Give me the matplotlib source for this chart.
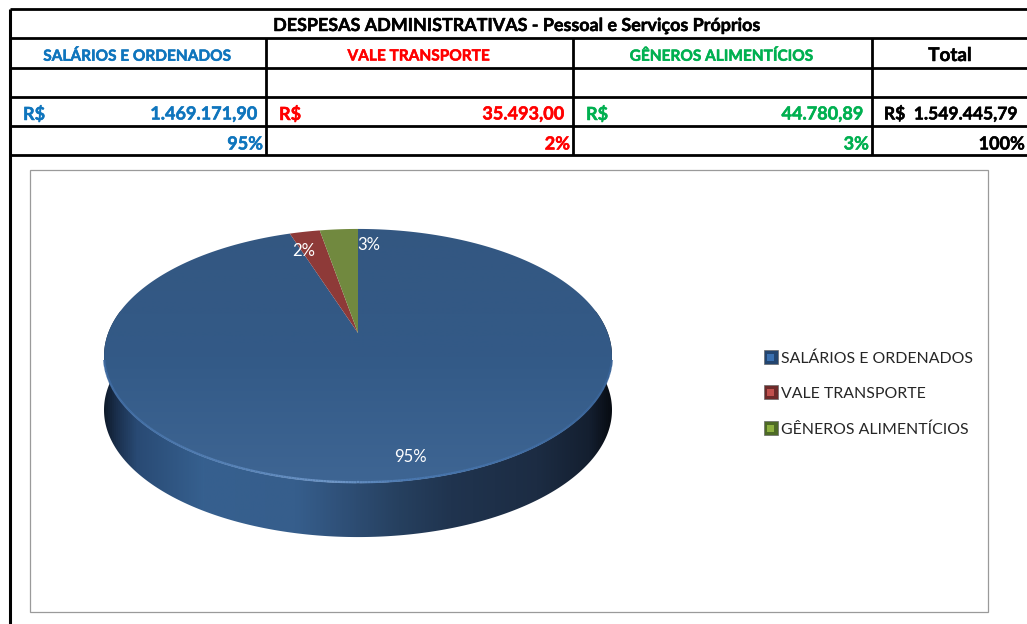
import numpy as np
import matplotlib
matplotlib.use("Agg")
import matplotlib.pyplot as plt
import matplotlib.patheffects as pe
from matplotlib.patches import Polygon, Rectangle
from matplotlib.collections import LineCollection
from matplotlib.colors import LinearSegmentedColormap

plt.rcParams['font.family'] = ['Lato', 'DejaVu Sans']

categories = ["SALÁRIOS E ORDENADOS", "VALE TRANSPORTE", "GÊNEROS ALIMENTÍCIOS"]
values = [1469171.90, 35493.00, 44780.89]
value_labels = ["1.469.171,90", "35.493,00", "44.780,89"]
pct_labels = ["95%", "2%", "3%"]
total_label = "R$  1.549.445,79"
total_pct = "100%"
title = "DESPESAS ADMINISTRATIVAS - Pessoal e Serviços Próprios"
text_colors = ["#0f75bd", "#ff0000", "#00b050"]
top_colors = ["#3a6190", "#8e3a38", "#71893f"]

fig = plt.figure(figsize=(10.27, 6.24), dpi=100)
ax = fig.add_axes([0, 0, 1, 1])
ax.set_xlim(0, 1027)
ax.set_ylim(624, 0)
ax.axis("off")


def bold_text(x, y, s, size, color, ha):
    t = ax.text(x, y, s, ha=ha, va="center", fontsize=size, weight="bold", color=color, zorder=6)
    t.set_path_effects([pe.withStroke(linewidth=0.35, foreground=color)])
    return t


# ---------- table ----------
LW = 2.0
XL, XR = 10, 1027
cols = [10, 266, 573, 872, 1027]
rows = [9, 38, 68, 97, 126, 155]
for y in rows:
    ax.plot([XL, XR], [y, y], color="black", lw=LW, solid_capstyle="butt", zorder=5)
ax.plot([XL, XL], [9, 624], color="black", lw=LW + .2, solid_capstyle="butt", zorder=5)
for x in cols[1:4]:
    ax.plot([x, x], [38, 155], color="black", lw=LW, solid_capstyle="butt", zorder=5)

bold_text(517, 25.5, title, 12.9, "black", "center")
for i, cat in enumerate(categories):
    cx = (cols[i] + cols[i + 1]) / 2
    bold_text(cx - 1, 56.5, cat, 11.1, text_colors[i], "center")
    bold_text(cols[i] + 13, 114, "R$", 13, text_colors[i], "left")
    bold_text(cols[i + 1] - 9, 114, value_labels[i], 13, text_colors[i], "right")
    bold_text(cols[i + 1] - 3, 144, pct_labels[i], 13, text_colors[i], "right")
bold_text(950, 55.5, "Total", 13.6, "black", "center")
bold_text(951, 114, total_label, 12.6, "black", "center")
bold_text(1025, 144, total_pct, 13, "black", "right")

# ---------- chart frame ----------
ax.add_patch(Rectangle((30, 170), 958, 442, fc="white", ec="#9a9a9a", lw=0.9, zorder=1))

# ---------- perspective pie ----------
CX, CY = 358, 333
K, A, B = 0.181, 249.8, 122.9
DEPTH = 54


def project(theta):
    u, v = np.cos(theta), np.sin(theta)
    w = 1 + K * v
    return CX + A * u / w, CY - B * v / w


def wedge(t0, t1, n=240):
    t = np.linspace(t0, t1, n)
    x, y = project(t)
    return np.column_stack([np.r_[CX, x], np.r_[CY, y]])


extent = (100, 616, 540, 225)

# side wall: swept outline, shaded along x
side_t = np.linspace(np.pi * 0.94, np.pi * 2.06, 400)
sx, sy = project(side_t)
side_poly = np.column_stack([np.r_[sx, sx[::-1]], np.r_[sy, sy[::-1] + DEPTH]])
side_cmap = LinearSegmentedColormap.from_list("side", [
    (0.00, "#0b1420"), (0.03, "#1a2f4c"), (0.07, "#294a74"), (0.20, "#36608f"),
    (0.38, "#365e8c"), (0.47, "#2f5078"), (0.58, "#26405f"), (0.68, "#20344f"),
    (0.85, "#1c2c43"), (0.95, "#141f30"), (1.00, "#05080d")])
im = ax.imshow(np.linspace(0, 1, 512)[None, :], cmap=side_cmap, extent=extent,
               aspect="auto", zorder=2, interpolation="bilinear")
p = Polygon(side_poly, closed=True, transform=ax.transData, fc="none", ec="none")
ax.add_patch(p)
im.set_clip_path(p)

# top face
fractions = np.array(values) / np.sum(values)
edges = np.pi / 2 - 2 * np.pi * np.r_[0, np.cumsum(fractions)]
face_cmap = LinearSegmentedColormap.from_list("face", ["#335781", "#335a87", "#3f6694"])
for i, (a0, a1) in enumerate(zip(edges[:-1], edges[1:])):
    poly = wedge(a0, a1)
    if i == 0:
        im2 = ax.imshow(np.linspace(0, 1, 256)[:, None], cmap=face_cmap,
                        extent=(100, 616, 490, 225), aspect="auto", zorder=3)
        q = Polygon(poly, closed=True, transform=ax.transData, fc="none", ec="none")
        ax.add_patch(q)
        im2.set_clip_path(q)
    else:
        ax.add_patch(Polygon(poly, closed=True, fc=top_colors[i], ec="none", zorder=4))
ax.set_xlim(0, 1027)
ax.set_ylim(624, 0)

# rim highlight along the lower edge, fading to the right
rt = np.linspace(np.pi * 1.07, np.pi * 1.93, 300)
rx, ry = project(rt)
pts = np.column_stack([rx, ry - 0.8]).reshape(-1, 1, 2)
segs = np.concatenate([pts[:-1], pts[1:]], axis=1)
rim_cmap = LinearSegmentedColormap.from_list("rim", [
    (0.0, "#3f6ba2"), (0.28, "#5b86ba"), (0.45, "#6f97c8"), (0.6, "#4a78b0"), (1.0, "#3a659a")])
lc = LineCollection(segs, cmap=rim_cmap, linewidths=1.6, zorder=4)
lc.set_array((rx[:-1] - 104) / 508)
ax.add_collection(lc)

# data labels
for lab, (x, y) in zip(["95%", "2%", "3%"], [(410, 457), (304, 251), (369, 245)]):
    ax.text(x, y, lab, ha="center", va="center", fontsize=12, color="white", zorder=6)

# ---------- legend ----------
key_outer = ["#23456f", "#6d2a2a", "#4d6a26"]
key_inner = ["#3a70b0", "#c0504d", "#8db040"]
for name, co, ci, y in zip(categories, key_outer, key_inner, [357, 392, 428]):
    ax.add_patch(Rectangle((763.5, y - 7), 14, 14, fc=co, ec="#6a6a6a", lw=.5, zorder=3))
    ax.add_patch(Rectangle((767, y - 3.5), 7, 7, fc=ci, ec="none", zorder=3))
    ax.text(781, y + 1.5, name, ha="left", va="center", fontsize=11.4, color="#262626", zorder=3)

fig.savefig("out.png", dpi=100)
